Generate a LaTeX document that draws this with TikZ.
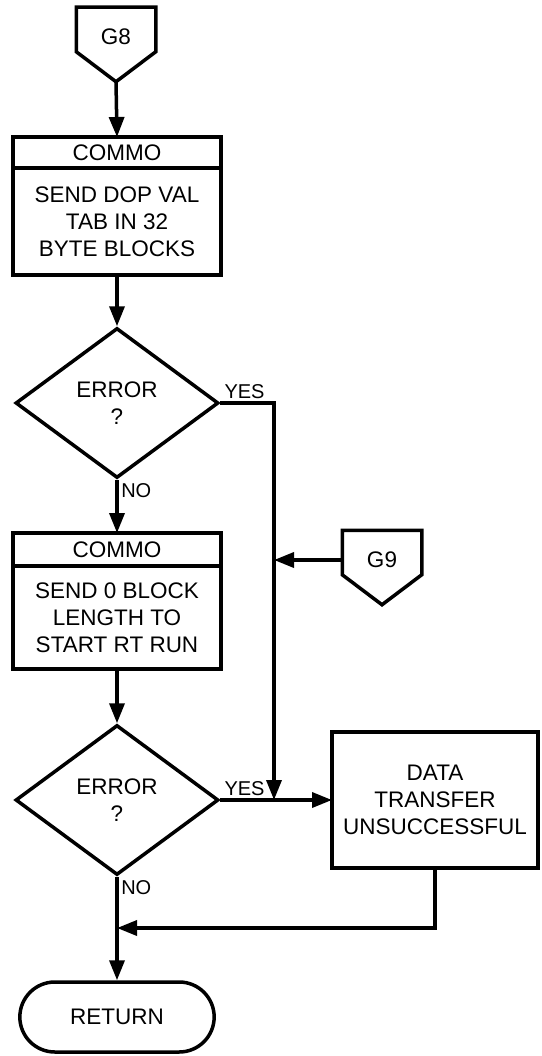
\documentclass[tikz,border=0pt]{standalone}
\usepackage{fontspec}
\setmainfont{Liberation Sans}
\usetikzlibrary{shapes.geometric, shapes.misc, arrows.meta}

\begin{document}
\begin{tikzpicture}[x=1pt, y=-1pt, line width=3.5pt,
  every node/.style={font=\fontsize{22.5}{27}\selectfont},
  arr/.style={-{Triangle[length=20pt,width=15pt]}},
  proc/.style={draw, minimum width=208pt, align=center, inner sep=0pt, outer sep=0pt},
  decision/.style={draw, diamond, minimum width=203pt, minimum height=150pt, align=center, inner sep=0pt},
  offpage/.style={minimum width=76pt, minimum height=56pt, inner sep=0pt},
  answer/.style={inner sep=2.5pt, font=\fontsize{20}{24}\selectfont}]
  \useasboundingbox (0,0) rectangle (541,1056);

  % off-page connectors
  \node[offpage] (g8) at (116,37) {G8};
  \draw (g8.north west) -- (g8.north east) -- ([yshift=15pt]g8.south east) -- ([yshift=-15pt]g8.south) -- ([yshift=15pt]g8.south west) -- cycle;
  \node[offpage] (g9) at (382,560) {G9};
  \draw (g9.north west) -- (g9.north east) -- ([yshift=15pt]g9.south east) -- ([yshift=-15pt]g9.south) -- ([yshift=15pt]g9.south west) -- cycle;

  % main column
  \node[proc, minimum height=31pt] (h1) at (117,152.5) {COMMO};
  \node[proc, minimum height=107pt, anchor=north] (b1) at (h1.south) {SEND DOP VAL\\TAB IN 32\\BYTE BLOCKS};
  \node[decision] (d1) at (117,403) {ERROR\\?};
  \node[proc, minimum height=33pt] (h2) at (117,549.5) {COMMO};
  \node[proc, minimum height=103pt, anchor=north] (b2) at (h2.south) {SEND 0 BLOCK\\LENGTH TO\\START RT RUN};
  \node[decision] (d2) at (117,800) {ERROR\\?};
  \node[proc, minimum width=206pt, minimum height=136pt] (data) at (435,800) {DATA\\TRANSFER\\UNSUCCESSFUL};
  \node[draw, rounded rectangle, minimum width=201pt, minimum height=70pt] (ret) at (117,1017) {RETURN};

  \coordinate (rail) at (274,403);
  \coordinate (merge) at (117,928);

  % connectors
  \draw[arr] ([yshift=-15pt]g8.south) -- (h1.north);
  \draw[arr] (b1.south) -- (d1.north);
  \draw[arr] (d1.south) node[answer, below right]{NO} -- (h2.north);
  \draw[arr] (d1.east) node[answer, above right]{YES} -- (rail) -- (rail |- d2.east);
  \draw[arr] (g9.west) -- (g9.west -| rail);
  \draw[arr] (b2.south) -- (d2.north);
  \draw[arr] (d2.east) node[answer, above right]{YES} -- (data.west);
  \draw[arr] (data.south) -- (data.south |- merge) -- (merge);
  \draw[arr] (d2.south) node[answer, below right]{NO} -- (ret.north);
\end{tikzpicture}
\end{document}
